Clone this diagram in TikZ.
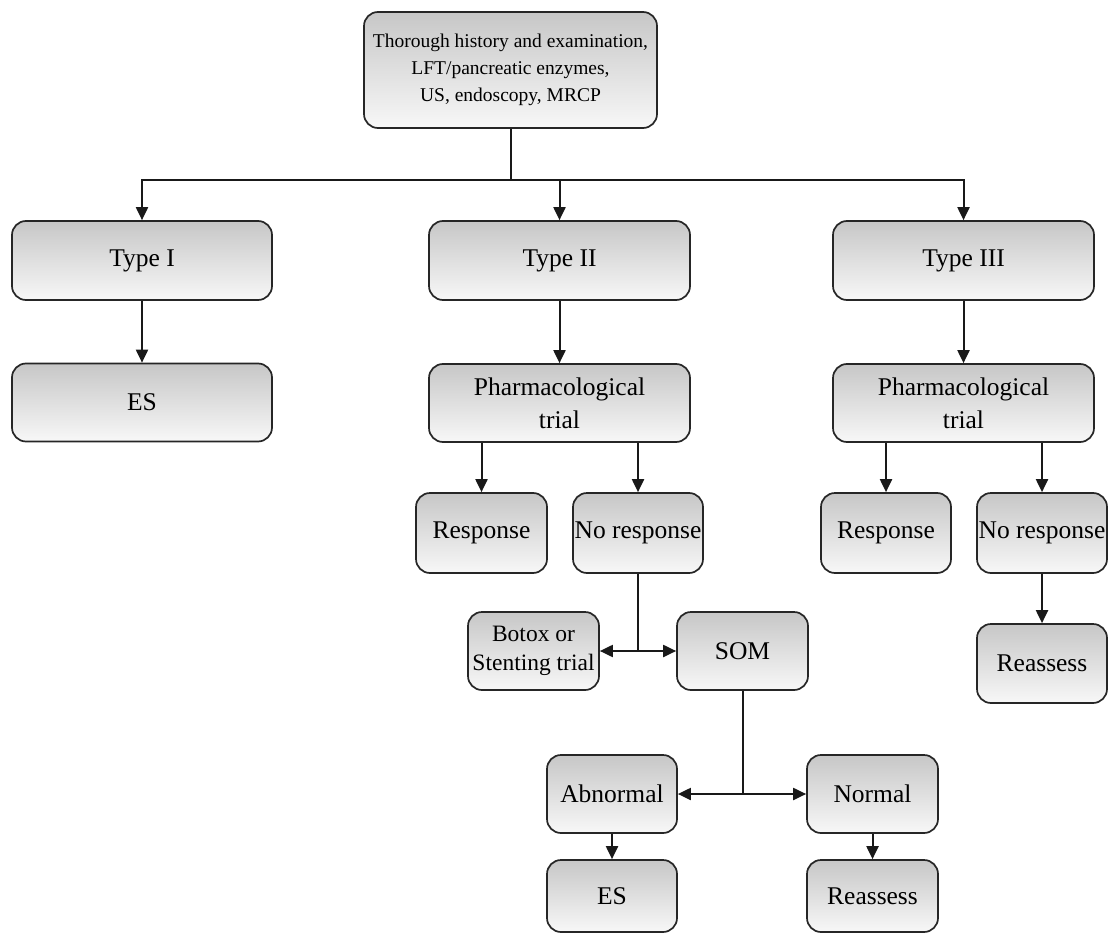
\documentclass[tikz,border=0pt]{standalone}
\usepackage{fontspec}
\setmainfont{Liberation Serif}
\usetikzlibrary{arrows.meta}
\tikzset{
  box/.style={draw=black!85, line width=1.7pt, rounded corners=14pt, top color=black!22, bottom color=white!97!black, align=center, inner sep=0pt, text=black},
  big/.style={font=\fontsize{25.5}{33}\selectfont},
  mid/.style={font=\fontsize{23.5}{29}\selectfont},
  topf/.style={font=\fontsize{19.5}{27}\selectfont},
  arr/.style={line width=2pt, draw=black!90, -{Triangle[width=12pt,length=13pt]}},
  ln/.style={line width=2pt, draw=black!90},
}
\begin{document}
\begin{tikzpicture}[x=1pt,y=-1pt]
\useasboundingbox (0,0) rectangle (1108,936);
\node[box,topf,minimum width=293pt,minimum height=116pt] (top) at (510.5,70) {Thorough history and examination,\\LFT/pancreatic enzymes,\\US, endoscopy, MRCP};
\node[box,big,minimum width=260pt,minimum height=79pt] (t1) at (142,260.5) {Type I};
\node[box,big,minimum width=261pt,minimum height=79pt] (t2) at (559.5,260.5) {Type II};
\node[box,big,minimum width=261pt,minimum height=79pt] (t3) at (963.5,260.5) {Type III};
\node[box,big,minimum width=260pt,minimum height=78pt] (es1) at (142,402.5) {ES};
\node[box,big,minimum width=261pt,minimum height=78pt] (ph2) at (559.5,403) {Pharmacological\\trial};
\node[box,big,minimum width=261pt,minimum height=78pt] (ph3) at (963.5,403) {Pharmacological\\trial};
\node[box,big,minimum width=131pt,minimum height=80pt] (r2) at (481.5,533) {Response};
\node[box,big,minimum width=130pt,minimum height=80pt] (n2) at (638,533) {No response};
\node[box,big,minimum width=130pt,minimum height=80pt] (r3) at (886,533) {Response};
\node[box,big,minimum width=130pt,minimum height=80pt] (n3) at (1042,533) {No response};
\node[box,mid,minimum width=131pt,minimum height=78pt] (botox) at (533.5,651) {Botox or\\Stenting trial};
\node[box,big,minimum width=131pt,minimum height=78pt] (som) at (742.5,651) {SOM};
\node[box,big,minimum width=130pt,minimum height=79pt] (re3) at (1042,663.5) {Reassess};
\node[box,big,minimum width=130pt,minimum height=78pt] (abn) at (612,794) {Abnormal};
\node[box,big,minimum width=131pt,minimum height=78pt] (nor) at (872.5,794) {Normal};
\node[box,big,minimum width=130pt,minimum height=72pt] (es2) at (612,896) {ES};
\node[box,big,minimum width=131pt,minimum height=72pt] (re2) at (872.5,896) {Reassess};
\coordinate (hub) at (510.5,180);
\draw[ln] (top.south) -- (hub);
\draw[arr] (hub) -| (t1.north);
\draw[arr] (hub) -| (t3.north);
\draw[arr] (t2.north |- hub) -- (t2.north);
\draw[arr] (t1) -- (es1);
\draw[arr] (t2) -- (ph2);
\draw[arr] (t3) -- (ph3);
\draw[arr] (ph2.south -| r2.north) -- (r2.north);
\draw[arr] (ph2.south -| n2.north) -- (n2.north);
\draw[arr] (ph3.south -| r3.north) -- (r3.north);
\draw[arr] (ph3.south -| n3.north) -- (n3.north);
\draw[arr] (n3) -- (re3);
\coordinate (j1) at (n2.south |- botox.east);
\draw[ln] (n2.south) -- (j1);
\draw[arr] (j1) -- (botox.east);
\draw[arr] (j1) -- (som.west);
\coordinate (j2) at (som.south |- abn.east);
\draw[ln] (som.south) -- (j2);
\draw[arr] (j2) -- (abn.east);
\draw[arr] (j2) -- (nor.west);
\draw[arr] (abn) -- (es2);
\draw[arr] (nor) -- (re2);
\end{tikzpicture}
\end{document}
